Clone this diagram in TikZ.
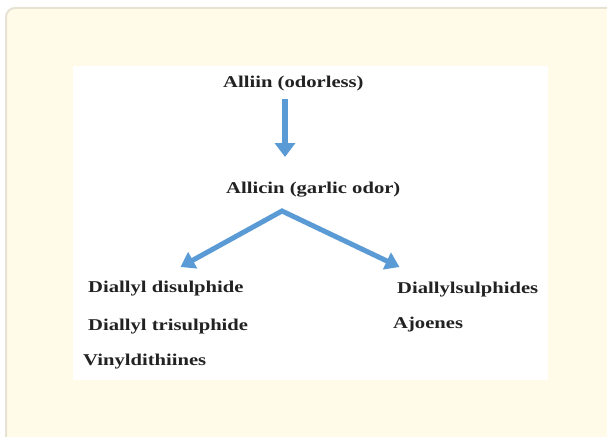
\documentclass[tikz,border=0pt]{standalone}
\usepackage{fontspec}
\setmainfont{Liberation Serif}[FakeStretch=1.25]
\usetikzlibrary{arrows.meta}
\definecolor{cream}{HTML}{FFFBE8}
\definecolor{borderc}{HTML}{E6E3D5}
\definecolor{arrowblue}{HTML}{5B9BD5}
\definecolor{txt}{HTML}{222222}
\tikzset{
  lbl/.style={inner sep=0pt, anchor=base west, text=txt, font=\fontsize{16.5}{19}\selectfont\bfseries},
  bluearrow/.style={draw=arrowblue, line width=6pt, -{Triangle[width=20pt,length=14pt]}},
  forkarrow/.style={draw=arrowblue, line width=5pt, {Triangle[width=18pt,length=14pt]}-{Triangle[width=18pt,length=14pt]}}
}
\begin{document}
\begin{tikzpicture}[x=1pt,y=-1pt]
\useasboundingbox (0,0) rectangle (607,436);
\fill[white] (0,0) rectangle (607,436);
\begin{scope}
\clip (0,0) rectangle (607,436);
\draw[draw=borderc, line width=2pt, fill=cream, rounded corners=9pt] (6,8) rectangle (640,470);
\end{scope}
\fill[white] (73,66) rectangle (548,380);
\node[lbl] (alliin) at (223,87.7) {Alliin (odorless)};
\node[lbl] (allicin) at (226,193.3) {Allicin (garlic odor)};
\node[lbl] (dd) at (88,292.3) {Diallyl disulphide};
\node[lbl] (dt) at (88,330) {Diallyl trisulphide};
\node[lbl] (vd) at (83,365) {Vinyldithiines};
\node[lbl] (ds) at (397,293.3) {Diallylsulphides};
\node[lbl] (aj) at (393,328.3) {Ajoenes};
\coordinate (top) at (285,99);
\coordinate (bot) at (285,157);
\coordinate (apex) at (282,211);
\coordinate (ltip) at (180.5,267);
\coordinate (rtip) at (399.5,267);
\draw[bluearrow] (top) -- (bot);
\draw[forkarrow] (ltip) -- (apex) -- (rtip);
\end{tikzpicture}
\end{document}
